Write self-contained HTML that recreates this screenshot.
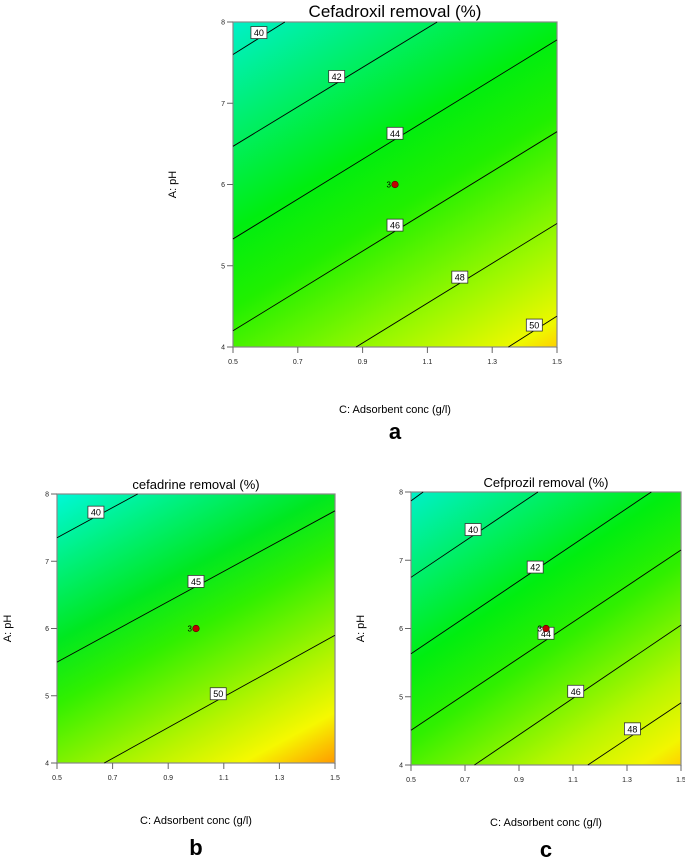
<!DOCTYPE html>
<html><head><meta charset="utf-8"><style>
body{margin:0;background:#fff;width:685px;height:857px;overflow:hidden;font-family:"Liberation Sans",sans-serif}
svg{position:absolute;left:0;top:0}
</style></head><body>
<svg id="chart" width="685" height="857" viewBox="0 0 685 857">
<defs id="defs"></defs>
</svg>
<script>
// ---- Panel a data (Cefadroxil) ----
const aLevels=[40,42,44,46,48,50];
const aStartC=[0.5,0.5,0.5,0.5,0.88,1.35];
const aStartPH=[7.6,6.47,5.33,4.2,4,4];
const aEndC=[0.66,1.13,1.5,1.5,1.5,1.5];
const aEndPH=[8,8,7.78,6.65,5.52,4.38];
const aLabelText=["40","42","44","46","48","50"];
const aLabelC=[0.58,0.82,1.0,1.0,1.2,1.43];
const aLabelPH=[7.87,7.33,6.63,5.5,4.86,4.27];
// ---- Panel b data (cefadrine) ----
const bLevels=[40,45,50];
const bStartC=[0.5,0.5,0.67];
const bStartPH=[7.35,5.5,4];
const bEndC=[0.79,1.5,1.5];
const bEndPH=[8,7.75,5.9];
const bLabelText=["40","45","50"];
const bLabelC=[0.64,1.0,1.08];
const bLabelPH=[7.73,6.7,5.03];
// ---- Panel c data (Cefprozil) ----
const cLevels=[38,40,42,44,46,48];
const cStartC=[0.5,0.5,0.5,0.5,0.735,1.155];
const cStartPH=[7.87,6.75,5.63,4.51,4,4];
const cEndC=[0.545,0.97,1.39,1.5,1.5,1.5];
const cEndPH=[8,8,8,7.15,6.05,4.91];
const cLabelText=["40","42","44","46","48"];
const cLabelC=[0.73,0.96,1.0,1.11,1.32];
const cLabelPH=[7.45,6.9,5.93,5.08,4.53];
// design point
const pointC=[1.0];
const pointPH=[6.0];
const xTicks=[0.5,0.7,0.9,1.1,1.3,1.5];
const yTicks=[4,5,6,7,8];

const NS="http://www.w3.org/2000/svg";
const svg=document.getElementById('chart');
const defs=document.getElementById('defs');
function mk(tag,attrs,parent){const e=document.createElementNS(NS,tag);for(const k in attrs)e.setAttribute(k,attrs[k]);(parent||svg).appendChild(e);return e;}

function panel(id,box,title,titleSize,letter,letterY,xlabY,ylabX,levels,sC,sP,eC,eP,lt,lc,lp,stops,pslope){
  const g=mk('g',{});
  
  
  const X=c=>box.x0+(c-0.5)/(1.0)*(box.x1-box.x0);
  const Y=p=>box.y1-(p-4)/4*(box.y1-box.y0);
  // gradient
  const nl=Math.hypot(pslope,1), nx=pslope/nl, ny=1/nl;
  const proj=(box.x1-box.x0)*nx+(box.y1-box.y0)*ny;
  const gr=mk('linearGradient',{id:'grad-'+id,gradientUnits:'userSpaceOnUse',x1:box.x0,y1:box.y0,x2:box.x0+nx*proj,y2:box.y0+ny*proj},defs);
  stops.forEach(s=>mk('stop',{offset:s[0],'stop-color':s[1]},gr));
  const bg=mk('rect',{x:box.x0,y:box.y0,width:box.x1-box.x0,height:box.y1-box.y0,fill:'url(#grad-'+id+')',stroke:'#888','stroke-width':1.2},g);
  
  
  for(let i=0;i<levels.length;i++){
    const l=mk('line',{x1:X(sC[i]),y1:Y(sP[i]),x2:X(eC[i]),y2:Y(eP[i]),stroke:'#000','stroke-width':0.9},g);
    
    
  }
  for(let i=0;i<lt.length;i++){
    const lg=mk('g',{},g);
    
    
    mk('rect',{x:X(lc[i])-8,y:Y(lp[i])-6,width:16,height:12,fill:'#fff',stroke:'#333','stroke-width':0.8},lg);
    const t=mk('text',{x:X(lc[i]),y:Y(lp[i])+3.5,'font-size':9,'text-anchor':'middle',fill:'#000'},lg);
    t.textContent=lt[i];
  }
  for(let i=0;i<pointC.length;i++){
    const d=mk('circle',{cx:X(pointC[i]),cy:Y(pointPH[i]),r:3.3,fill:'#c00000',stroke:'#500','stroke-width':0.6},g);
    
    
    const t=mk('text',{x:X(pointC[i])-4,y:Y(pointPH[i])+3,'font-size':8,'text-anchor':'end'},g);
    t.textContent='3';
  }
  xTicks.forEach(v=>{
    mk('line',{x1:X(v),x2:X(v),y1:box.y1,y2:box.y1+6,stroke:'#666','stroke-width':1},g);
    const t=mk('text',{x:X(v),y:box.y1+17,'font-size':7,'text-anchor':'middle',fill:'#222'},g);
    
    
    t.textContent=v.toFixed(1);
  });
  yTicks.forEach(v=>{
    mk('line',{x1:box.x0-6,x2:box.x0,y1:Y(v),y2:Y(v),stroke:'#666','stroke-width':1},g);
    const t=mk('text',{x:box.x0-8,y:Y(v)+2.5,'font-size':7,'text-anchor':'end',fill:'#222'},g);
    
    
    t.textContent=v;
  });
  const cx=(box.x0+box.x1)/2, cy=(box.y0+box.y1)/2;
  const tt=mk('text',{x:cx,y:box.y0-5,'font-size':titleSize,'text-anchor':'middle'},g);
  
  
  tt.textContent=title;
  const xl=mk('text',{x:cx,y:xlabY,'font-size':11,'text-anchor':'middle'},g);
  
  
  xl.textContent='C: Adsorbent conc (g/l)';
  const yl=mk('text',{x:ylabX,y:cy,'font-size':11,'text-anchor':'middle',transform:'rotate(-90 '+ylabX+' '+cy+')'},g);
  
  
  yl.textContent='A: pH';
  const lt2=mk('text',{x:cx,y:letterY,'font-size':22,'font-weight':'bold','text-anchor':'middle'},g);
  
  
  lt2.textContent=letter;
}
panel('a',{x0:233,x1:557,y0:22,y1:347},'Cefadroxil removal (%)',17,'a',439,413,176,
  aLevels,aStartC,aStartPH,aEndC,aEndPH,aLabelText,aLabelC,aLabelPH,
  [[0,'#00f0c8'],[0.4,'#00ee10'],[0.55,'#20f000'],[0.8,'#a0f800'],[0.95,'#eef800'],[1,'#ffd000']],0.6);
panel('b',{x0:57,x1:335,y0:494,y1:763},'cefadrine removal (%)',13,'b',855,824,11,
  bLevels,bStartC,bStartPH,bEndC,bEndPH,bLabelText,bLabelC,bLabelPH,
  [[0,'#00f8d8'],[0.35,'#00e820'],[0.5,'#30f000'],[0.75,'#b8f400'],[0.88,'#f6f800'],[1,'#ff9a00']],0.54);
panel('c',{x0:411,x1:681,y0:492,y1:765},'Cefprozil removal (%)',13,'c',857,826,364,
  cLevels,cStartC,cStartPH,cEndC,cEndPH,cLabelText,cLabelC,cLabelPH,
  [[0,'#00f0c8'],[0.38,'#00ee10'],[0.55,'#30f000'],[0.8,'#b8f600'],[0.94,'#f2f600'],[1,'#ffd000']],0.66);
</script>
</body></html>
